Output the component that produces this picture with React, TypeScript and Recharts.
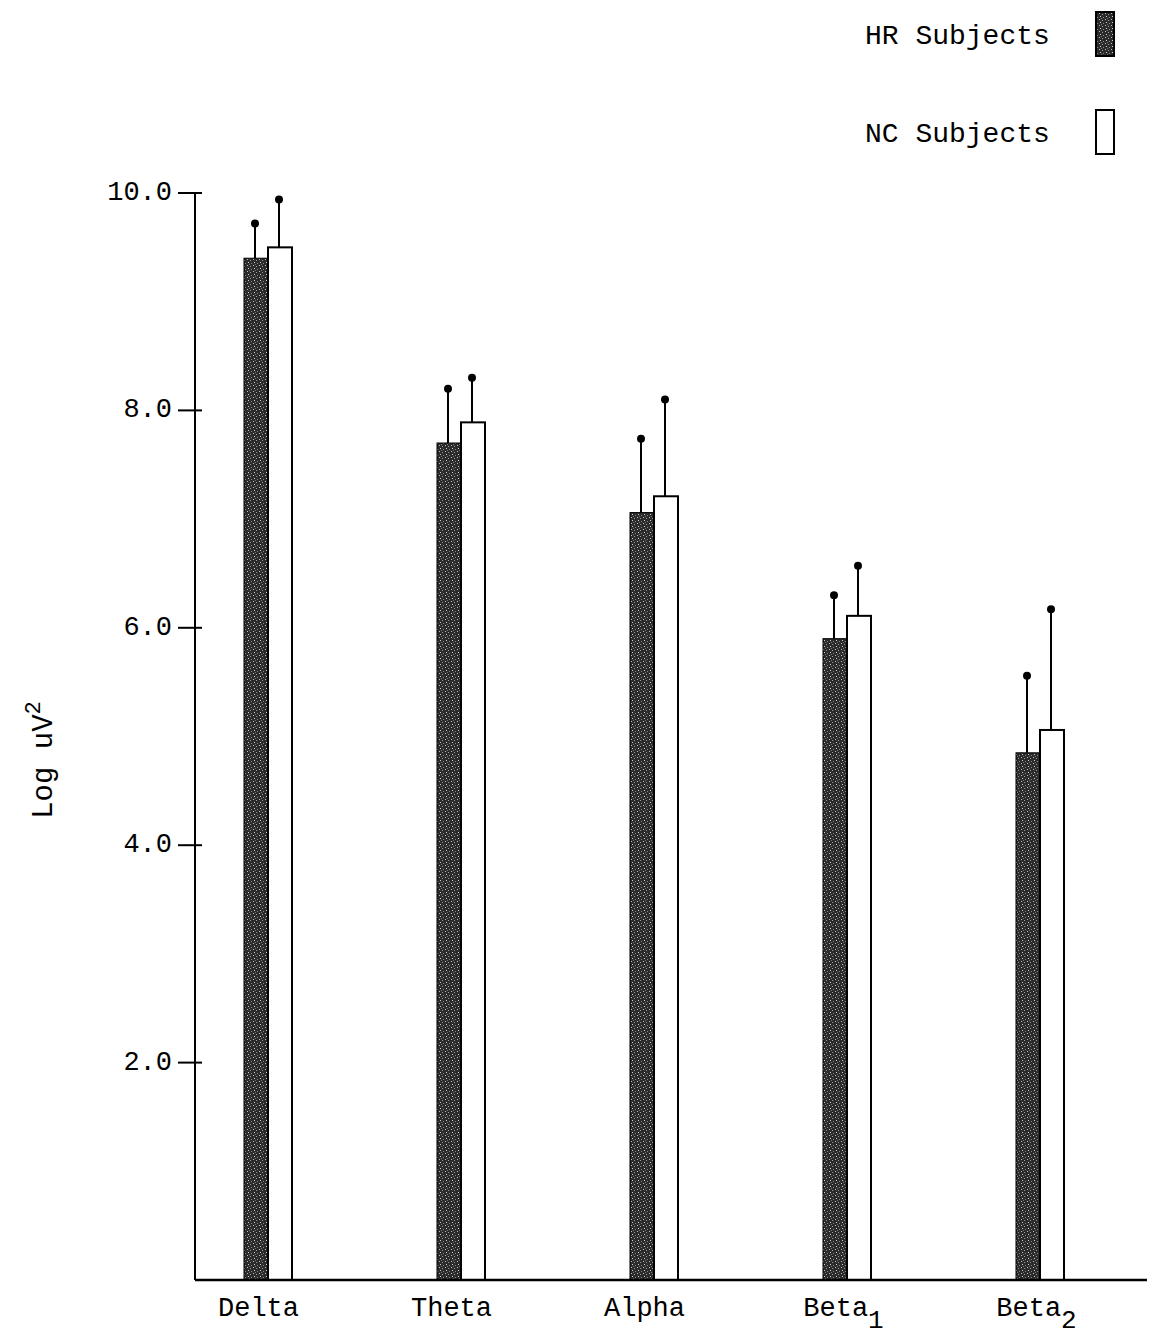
import React from 'react';
import { BarChart, Bar, XAxis, YAxis, Legend } from 'recharts';

const categories = ['Delta', 'Theta', 'Alpha', 'Beta1', 'Beta2'];
const categoryLabels = ['Delta', 'Theta', 'Alpha', 'Beta', 'Beta'];
const categorySubscripts = ['', '', '', '1', '2'];
const hrMeans = [9.4, 7.7, 7.06, 5.9, 4.85];
const hrErrors = [0.32, 0.5, 0.68, 0.4, 0.71];
const ncMeans = [9.5, 7.89, 7.21, 6.11, 5.06];
const ncErrors = [0.44, 0.41, 0.89, 0.46, 1.11];
const yTicks = [2, 4, 6, 8, 10];
const seriesNames = ['HR Subjects', 'NC Subjects'];

const data = categories.map((c, i) => ({
  category: c,
  label: categoryLabels[i],
  sub: categorySubscripts[i],
  hr: hrMeans[i],
  hrErr: hrErrors[i],
  nc: ncMeans[i],
  ncErr: ncErrors[i],
}));

const FONT = '"Liberation Mono", "DejaVu Sans Mono", monospace';

const makeShape = (valueKey: string, errKey: string, filled: boolean) => (props: any) => {
  const { x, y, width, height, payload } = props;
  const v = payload[valueKey];
  const e = payload[errKey];
  const pxPerUnit = height / v;
  const topY = y - e * pxPerUnit;
  const cx = x + width / 2 - 1;
  return (
    <g>
      <rect
        x={x}
        y={y}
        width={width}
        height={height}
        fill={filled ? 'url(#stipple)' : '#ffffff'}
        stroke="#000"
        strokeWidth={filled ? 1 : 2}
      />
      <line x1={cx} y1={y} x2={cx} y2={topY} stroke="#000" strokeWidth={2} />
      <circle cx={cx} cy={topY} r={4} fill="#000" />
    </g>
  );
};

const YTick = (props: any) => {
  const { x, y, payload } = props;
  return (
    <g>
      <line x1={x - 17} y1={y} x2={x + 7} y2={y} stroke="#000" strokeWidth={2} />
      <text x={x - 23} y={y} textAnchor="end" dominantBaseline="central" fontFamily={FONT} fontSize={27} fill="#000">
        {Number(payload.value).toFixed(1)}
      </text>
    </g>
  );
};

const XTick = (props: any) => {
  const { x, y, payload, index } = props;
  const label = categoryLabels[index] ?? payload.value;
  const sub = categorySubscripts[index] ?? '';
  return (
    <text x={x - 9 + (sub ? 6 : 0)} y={y + 36} textAnchor="middle" fontFamily={FONT} fontSize={27} fill="#000">
      {label}
      {sub ? (
        <tspan dy={12} fontSize={26}>
          {sub}
        </tspan>
      ) : null}
    </text>
  );
};

const LegendContent = (props: any) => {
  const payload = props.payload || [];
  return (
    <svg width={1149} height={170} style={{ display: 'block' }}>
      {payload.map((entry: any, i: number) => {
        const baseY = 44 + i * 98;
        return (
          <g key={i}>
            <text x={865} y={baseY} fontFamily={FONT} fontSize={28} fill="#000">
              {entry.value}
            </text>
            <rect
              x={1096}
              y={baseY - 32}
              width={18}
              height={44}
              fill={i === 0 ? 'url(#stipple)' : '#ffffff'}
              stroke="#000"
              strokeWidth={2}
            />
          </g>
        );
      })}
    </svg>
  );
};

const YLabel = () => (
  <text
    x={52}
    y={760}
    transform="rotate(-90, 52, 760)"
    textAnchor="middle"
    fontFamily={FONT}
    fontSize={29}
    fill="#000"
  >
    Log uV
    <tspan dy={-12} fontSize={22}>
      2
    </tspan>
  </text>
);

export default function App() {
  return (
    <div style={{ position: 'absolute', left: 0, top: 0, width: 1149, height: 1339, background: '#fff' }}>
      <BarChart
        width={1149}
        height={1339}
        data={data}
        margin={{ top: 193, right: 2, bottom: 9, left: 0 }}
        barGap={0}
        barSize={24}
      >
        <defs>
          <pattern id="stipple" width="6" height="6" patternUnits="userSpaceOnUse">
            <rect width="6" height="6" fill="#2b2b2b" />
            <rect x="1" y="1" width="1" height="1" fill="#bdbdbd" />
            <rect x="4" y="2" width="1" height="1" fill="#9a9a9a" />
            <rect x="2" y="4" width="1" height="1" fill="#d0d0d0" />
            <rect x="5" y="5" width="1" height="1" fill="#8a8a8a" />
            <rect x="3" y="0" width="1" height="1" fill="#777" />
          </pattern>
        </defs>
        <XAxis
          dataKey="category"
          height={50}
          padding={{ left: -24, right: 11 }}
          axisLine={{ stroke: '#000', strokeWidth: 2.5 }}
          tickLine={false}
          tickSize={0}
          tickMargin={0}
          tick={<XTick />}
          interval={0}
        />
        <YAxis
          width={195}
          domain={[0, 10]}
          ticks={yTicks}
          axisLine={{ stroke: '#000', strokeWidth: 2 }}
          tickLine={false}
          tickSize={0}
          tickMargin={0}
          tick={<YTick />}
          label={{ content: () => <YLabel /> }}
        />
        <Legend
          layout="horizontal"
          verticalAlign="middle"
          wrapperStyle={{ position: 'absolute', left: 0, top: 0, width: 1149, height: 170 }}
          content={<LegendContent />}
        />
        <Bar dataKey="hr" name={seriesNames[0]} fill="#2b2b2b" isAnimationActive={false} shape={makeShape('hr', 'hrErr', true)} />
        <Bar dataKey="nc" name={seriesNames[1]} fill="#ffffff" stroke="#000" isAnimationActive={false} shape={makeShape('nc', 'ncErr', false)} />
      </BarChart>
    </div>
  );
}
